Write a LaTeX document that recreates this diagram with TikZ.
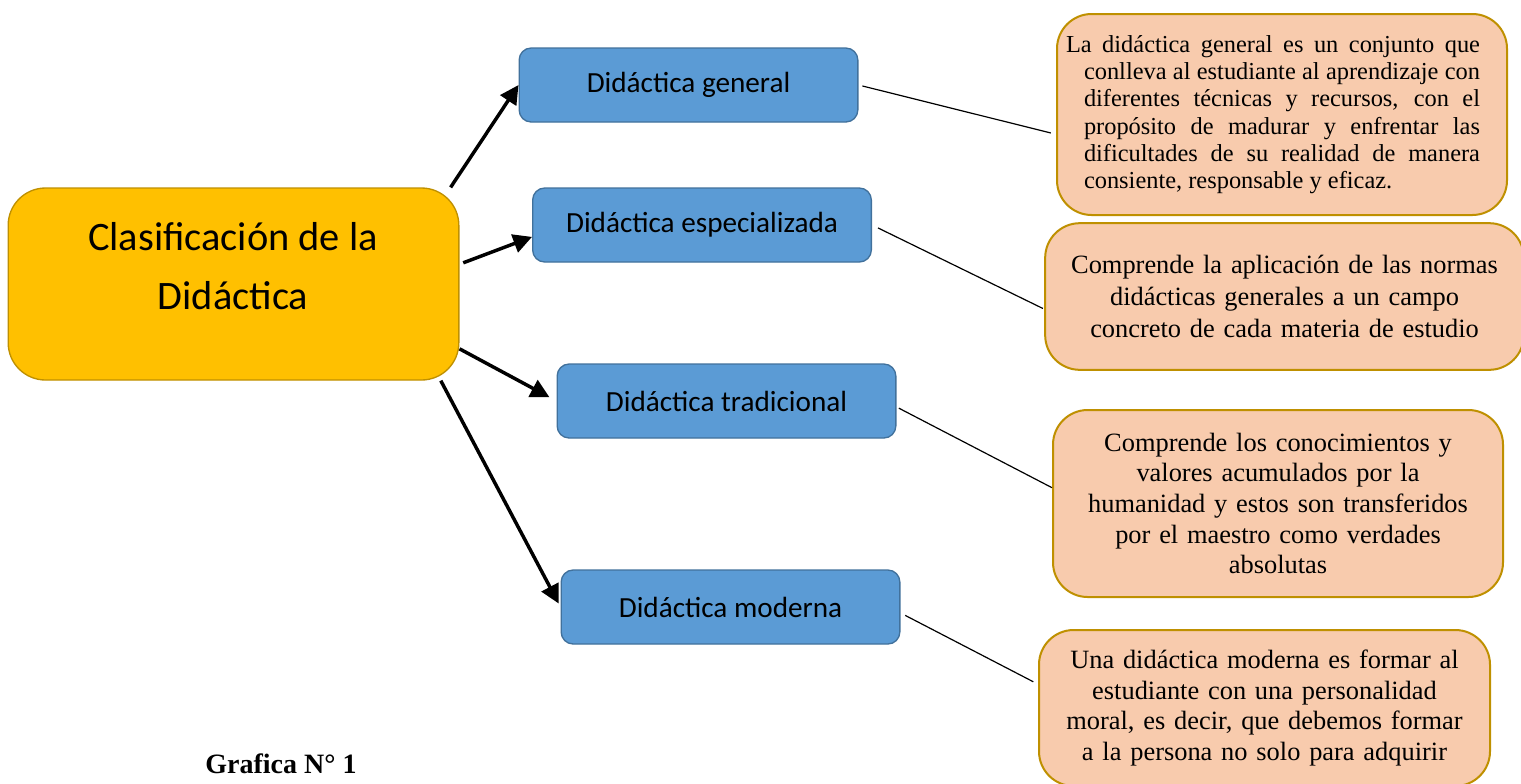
\documentclass[tikz,border=0pt]{standalone}
\usepackage{fontspec}
\setmainfont{Liberation Serif}
\newfontfamily\carlito{Carlito}
\usetikzlibrary{arrows.meta,positioning}
\definecolor{gold}{HTML}{FFC000}
\definecolor{goldline}{HTML}{BF9000}
\definecolor{skyblue}{HTML}{5B9BD5}
\definecolor{skyline}{HTML}{41719C}
\definecolor{peach}{HTML}{F8CBAD}
\tolerance=10000
\hyphenpenalty=10000

\begin{document}
\begin{tikzpicture}[x=0.75pt,y=-0.75pt,>={Triangle[length=14pt,width=14pt]}]
    \tikzstyle{mainbox}=[rectangle,draw=goldline,fill=gold,line width=1pt,rounded corners=28pt,minimum width=338pt,minimum height=144pt,inner sep=0pt]
    \tikzstyle{subbox}=[rectangle,draw=skyline,fill=skyblue,line width=1pt,rounded corners=9pt,minimum width=254pt,minimum height=55.5pt,font=\carlito\fontsize{21.9}{26}\selectfont]
    \tikzstyle{notebox}=[rectangle,draw=goldline,fill=peach,line width=1.5pt,rounded corners=26pt,align=center,font=\fontsize{19.8}{23}\selectfont]
    \tikzstyle{arr}=[->,line width=2.6pt]
    \tikzstyle{lnk}=[line width=0.9pt]
    \fill[white] (0,0) rectangle (1521,783);
    \useasboundingbox (0,0) rectangle (1521,783);
    \clip (0,0) rectangle (1521,783);
    \node[mainbox] (main) at (233.5,284) {};
    \node[align=center,font=\carlito\fontsize{30.3}{44.3}\selectfont] (maintxt) at (233,266) {Clasificación de la\\Didáctica};
    \node[subbox] (gen) at (688.5,85) {Didáctica general};
    \node[subbox] (esp) at (702,225) {Didáctica especializada};
    \node[subbox] (trad) at (726.5,401) {Didáctica tradicional};
    \node[subbox] (mod) at (730.5,607) {Didáctica moderna};
    \node[notebox,minimum width=337.5pt,minimum height=150.75pt,text width=297pt,align=justify,font=\fontsize{18.3}{20.5}\selectfont] (d1) at (1282,114.5) {\hspace*{-13.5pt}La didáctica general es un conjunto que\linebreak conlleva al estudiante al aprendizaje con\linebreak diferentes técnicas y recursos, con el\linebreak propósito de madurar y enfrentar las\linebreak dificultades de su realidad de manera\linebreak consiente, responsable y eficaz.};
    \node[notebox,minimum width=359pt,minimum height=110pt,text width=330pt,font=\fontsize{19.8}{24}\selectfont] (d2) at (1284.5,296.5) {Comprende la aplicación de las normas\\didácticas generales a un campo\\concreto de cada materia de estudio};
    \node[notebox,minimum width=337.5pt,minimum height=140.25pt,text width=300pt] (d3) at (1278,503.5) {Comprende los conocimientos y\\valores acumulados por la\\humanidad y estos son transferidos\\por el maestro como verdades\\absolutas};
    \node[notebox,minimum width=338.25pt,minimum height=117pt,text width=305pt] (d4) at (1264.5,708) {Una didáctica moderna es formar al\\estudiante con una personalidad\\moral, es decir, que debemos formar\\a la persona no solo para adquirir};
    \node[font=\bfseries\fontsize{21}{25}\selectfont] (grafica) at (281,764) {Grafica N° 1};
    \draw[arr] (main.24.5) -- (gen.west);
    \draw[arr,shorten <=3pt] (main.5) -- (esp.184);
    \draw[arr,shorten >=6pt] (main.-16) -- (trad.west);
    \draw[arr,shorten >=3pt] (main.-25) -- (mod.west);
    \draw[lnk,shorten <=3pt,shorten >=4pt] (gen.east) -- (d1.185);
    \draw[lnk,shorten <=5pt,shorten >=1pt] (esp.east) -- (d2.183);
    \draw[lnk,shorten <=2pt] (trad.-2) -- (d3.176);
    \draw[lnk,shorten <=4pt,shorten >=4pt] (mod.-2) -- (d4.174);
\end{tikzpicture}
\end{document}
